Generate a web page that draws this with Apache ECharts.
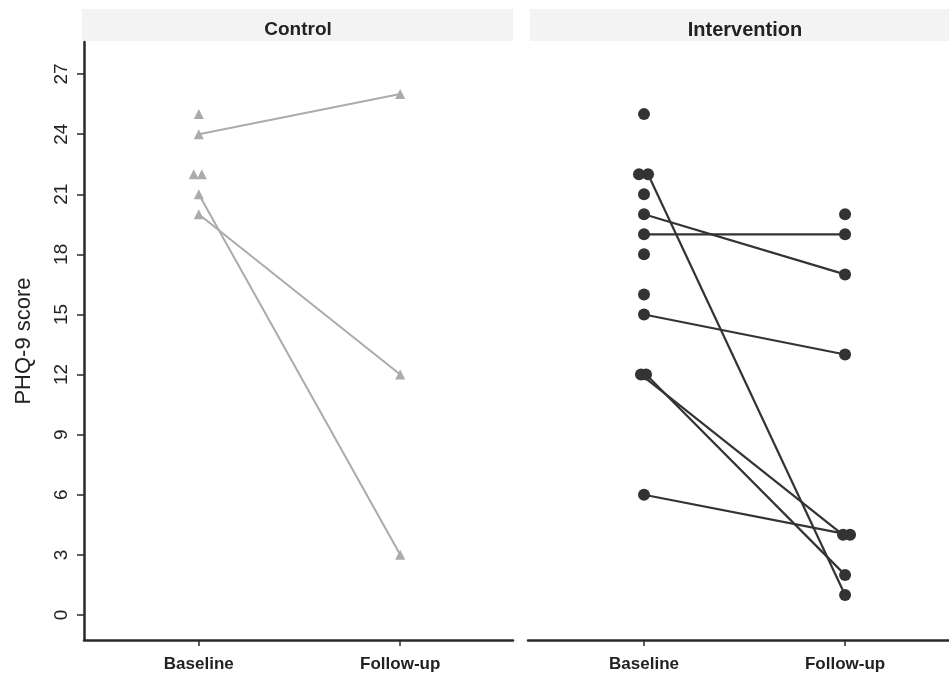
<!DOCTYPE html>
<html>
<head>
<meta charset="utf-8">
<script src="https://cdn.jsdelivr.net/npm/echarts@6/dist/echarts.min.js"></script>
<style>html,body{margin:0;padding:0;background:#fff}#c{width:949px;height:682px}</style>
</head>
<body>
<div id="c"></div>
<script>
// ---- data ----
const timepoints = ['Baseline', 'Follow-up'];
const yTicks = [0, 3, 6, 9, 12, 15, 18, 21, 24, 27];
const panelTitles = ['Control', 'Intervention'];

// Control group (one entry per participant)
const controlBaseline = [25, 24, 22, 22, 21, 20];
const controlFollowup = [null, 26, null, null, 3, 12];
const controlBaseJitter = [0, 0, -0.025, 0.015, 0, 0];
const controlFollowJitter = [0, 0, 0, 0, 0, 0];

// Intervention group (one entry per participant)
const interventionBaseline = [25, 22, 22, 21, 20, 19, 18, 16, 15, 12, 12, 6, null];
const interventionFollowup = [null, 1, null, null, 17, 19, null, null, 13, 4, 2, 4, 20];
const interventionBaseJitter = [0, 0.02, -0.025, 0, 0, 0, 0, 0, 0, -0.015, 0.01, 0, 0];
const interventionFollowJitter = [0, 0, 0, 0, 0, 0, 0, 0, 0, -0.01, 0, 0.025, 0];

// ---- chart ----
const font = "'Liberation Sans', Arial, sans-serif";
const chart = echarts.init(document.getElementById('c'));

function buildSeries(base, follow, bj, fj, gridIdx, symbol, color, symSize, lw) {
  const out = [];
  for (let i = 0; i < base.length; i++) {
    const pts = [];
    if (base[i] !== null) pts.push([1 + bj[i], base[i]]);
    if (follow[i] !== null) pts.push([2 + fj[i], follow[i]]);
    out.push({
      type: 'line', xAxisIndex: gridIdx, yAxisIndex: gridIdx,
      data: pts, symbol: symbol, symbolSize: symSize, showSymbol: true,
      lineStyle: { color: color, width: lw }, itemStyle: { color: color },
      silent: true, animation: false, z: 3
    });
  }
  return out;
}

function xAxis(gridIdx, mn, mx) {
  return {
    type: 'value', gridIndex: gridIdx, min: mn, max: mx,
    axisLine: { show: true, onZero: false, lineStyle: { color: '#2a2a2a', width: 2.5 } },
    axisTick: { show: true, customValues: [1, 2], length: 6, lineStyle: { color: '#2a2a2a', width: 1.5 } },
    axisLabel: {
      customValues: [1, 2], margin: 16,
      formatter: v => timepoints[Math.round(v) - 1] || '',
      fontFamily: font, fontSize: 17, fontWeight: 'bold', color: '#222'
    },
    splitLine: { show: false }
  };
}
function yAxis(gridIdx, show) {
  return {
    type: 'value', gridIndex: gridIdx, min: -1.25, max: 28.6,
    name: show ? 'PHQ-9 score' : '', nameLocation: 'middle', nameGap: 49,
    nameTextStyle: { fontFamily: font, fontSize: 22, color: '#222' },
    axisLine: { show: show, lineStyle: { color: '#2a2a2a', width: 2.5 } },
    axisTick: { show: show, customValues: yTicks, length: 7, lineStyle: { color: '#2a2a2a', width: 1.5 } },
    axisLabel: {
      show: show, customValues: yTicks, rotate: 90, margin: 13,
      fontFamily: font, fontSize: 19, color: '#222'
    },
    splitLine: { show: false }
  };
}

const option = {
  backgroundColor: '#fff',
  animation: false,
  title: [
    { text: panelTitles[0], left: 293, top: 15, textAlign: 'center',
      textStyle: { fontFamily: font, fontSize: 19, fontWeight: 'bold', color: '#222' } },
    { text: panelTitles[1], left: 740, top: 15, textAlign: 'center',
      textStyle: { fontFamily: font, fontSize: 20, fontWeight: 'bold', color: '#222' } }
  ],
  graphic: [
    { type: 'rect', shape: { x: 82, y: 9, width: 431, height: 32 }, style: { fill: '#f3f3f3' }, z: -1 },
    { type: 'rect', shape: { x: 530, y: 9, width: 419, height: 32 }, style: { fill: '#f3f3f3' }, z: -1 }
  ],
  grid: [
    { left: 84, top: 42, width: 429, height: 598 },
    { left: 528, top: 42, width: 421, height: 598 }
  ],
  xAxis: [xAxis(0, 0.43, 2.56), xAxis(1, 0.423, 2.517)],
  yAxis: [yAxis(0, true), yAxis(1, false)],
  series: [
    ...buildSeries(controlBaseline, controlFollowup, controlBaseJitter, controlFollowJitter, 0, 'triangle', '#ababab', 10, 2),
    ...buildSeries(interventionBaseline, interventionFollowup, interventionBaseJitter, interventionFollowJitter, 1, 'circle', '#333333', 12, 2.2)
  ]
};
chart.setOption(option);
</script>
</body>
</html>
